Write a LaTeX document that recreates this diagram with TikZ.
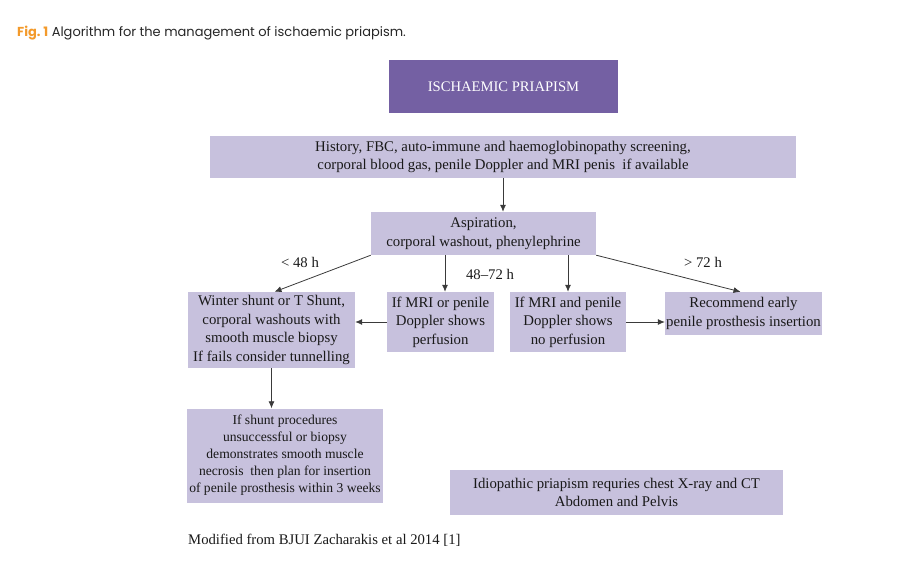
\documentclass[tikz,border=0pt]{standalone}
\usepackage{fontspec}
\setmainfont{Liberation Serif}
\newfontfamily\capfont{Poppins}
\usetikzlibrary{arrows.meta,positioning}
\definecolor{boxlilac}{HTML}{C7C1DD}
\definecolor{titlepurple}{HTML}{7460A3}
\definecolor{figorange}{HTML}{F39A2B}
\definecolor{linegray}{HTML}{3A3A3A}

\begin{document}
\begin{tikzpicture}[
  x=1pt, y=-1pt,
  flowbox/.style={fill=boxlilac, align=center, inner sep=0pt, text=black!90,
    font=\fontsize{14.8}{18.5}\selectfont},
  lbl/.style={font=\fontsize{14.7}{17}\selectfont, text=black!90},
  arrow/.style={-{Latex[length=7pt,width=6pt]}, linegray, line width=0.8pt}
]
\useasboundingbox (0,0) rectangle (904,572);
% caption
\node[anchor=west, inner sep=0pt, font=\capfont\fontsize{13}{15}\selectfont, text=black!85] (cap) at (17,33)
  {{\color{figorange}\bfseries Fig.~1}\ Algorithm for the management of ischaemic priapism.};
% boxes
\node[flowbox, fill=titlepurple, text=white, minimum width=229pt, minimum height=53pt, font=\fontsize{14.6}{17}\selectfont] (top) at (503.5,86.5) {ISCHAEMIC PRIAPISM};
\node[flowbox, minimum width=586pt, minimum height=42pt] (hist) at (503,157)
  {History, FBC, auto-immune and haemoglobinopathy screening,\\corporal blood gas, penile Doppler and MRI penis\ \ if available};
\node[flowbox, minimum width=225pt, minimum height=43pt] (asp) at (483.5,233.5)
  {Aspiration,\\corporal washout, phenylephrine};
\node[flowbox, minimum width=167pt, minimum height=76pt] (winter) at (271.5,330)
  {Winter shunt or T Shunt,\\corporal washouts with\\smooth muscle biopsy\\If fails consider tunnelling};
\node[flowbox, minimum width=107pt, minimum height=60pt] (mrior) at (440.5,322)
  {If MRI or penile\\Doppler shows\\perfusion};
\node[flowbox, minimum width=116pt, minimum height=60pt] (mriand) at (568,322)
  {If MRI and penile\\Doppler shows\\no perfusion};
\node[flowbox, minimum width=157pt, minimum height=43pt] (rec) at (743.5,313.5)
  {Recommend early\\penile prosthesis insertion};
\node[flowbox, minimum width=196pt, minimum height=94pt, font=\fontsize{13.6}{17}\selectfont] (shunt) at (285,455.5)
  {If shunt procedures\\unsuccessful or biopsy\\demonstrates smooth muscle\\necrosis\ \ then plan for insertion\\of penile prosthesis within 3 weeks};
\node[flowbox, minimum width=333pt, minimum height=45pt] (idio) at (616.5,492.5)
  {Idiopathic priapism requries chest X-ray and CT\\Abdomen and Pelvis};
% time labels
\node[lbl] (lt48) at (300,262) {< 48 h};
\node[lbl] (mid) at (490,274) {48--72 h};
\node[lbl] (gt72) at (703,262) {> 72 h};
\node[lbl, anchor=west, inner sep=0pt] (src) at (188,540) {Modified from BJUI Zacharakis et al 2014 [1]};
% connectors
\draw[arrow] (hist) -- (hist |- asp.north);
\draw[arrow] (asp.south west) -- ([xshift=3pt]winter.north);
\draw[arrow] ([xshift=4.5pt]asp.south -| mrior.north) -- ([xshift=4.5pt]mrior.north);
\draw[arrow] (asp.south -| mriand.north) -- (mriand.north);
\draw[arrow] (asp.south east) -- ([xshift=-3pt]rec.north);
\draw[arrow] (mrior.west) -- (mrior.west -| winter.east);
\draw[arrow] (mriand.east) -- (mriand.east -| rec.west);
\draw[arrow] (winter.south) -- (winter.south |- shunt.north);
\end{tikzpicture}
\end{document}
